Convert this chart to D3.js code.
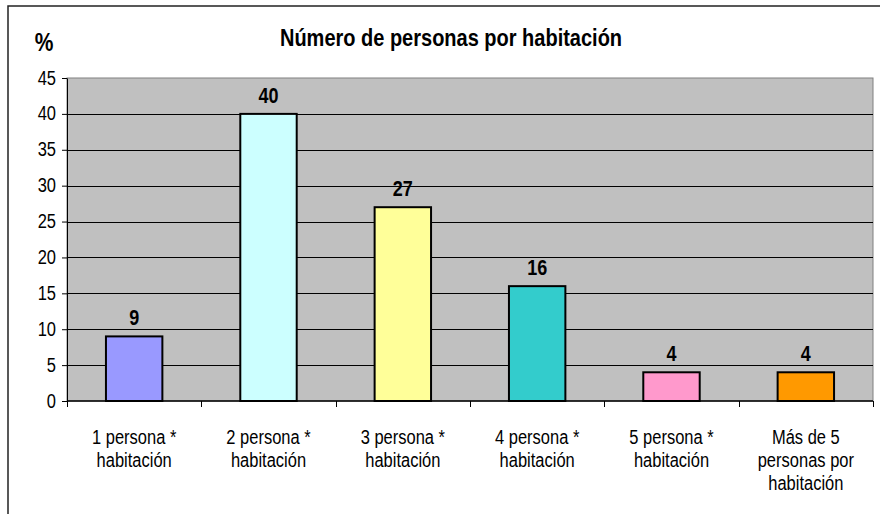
<!DOCTYPE html>
<html>
<head>
<meta charset="utf-8">
<script src="https://cdn.jsdelivr.net/npm/d3@7"></script>
<style>
  body { margin: 0; background: #fff; }
  text { font-family: "Liberation Sans", Arial, sans-serif; }
</style>
</head>
<body>
<svg id="chart"></svg>
<script>
// Data
const categories = [
    "1 persona * habitación",
    "2 persona * habitación",
    "3 persona * habitación",
    "4 persona * habitación",
    "5 persona * habitación",
    "Más de 5 personas por habitación"
];
const values = [9, 40, 27, 16, 4, 4];
const barColors = ["#9999FF", "#CCFFFF", "#FFFF99", "#33CCCC", "#FF99CC", "#FF9900"];
const yTicks = [0, 5, 10, 15, 20, 25, 30, 35, 40, 45];
const titleText = "Número de personas por habitación";
const yLabelText = "%";

let width = 884, height = 514;
let margin = { top: 78, bottom: 113, left: 67, right: 11 };
let sy = 1.2; // the original text looks a bit stretched vertically

let svg = d3.select('#chart')
    .attr('width', width)
    .attr('height', height);

// outer frame (only top and left edges are visible)
svg.append('path')
    .attr('d', `M8,${height} L8,6 L880,6`)
    .attr('fill', 'none')
    .attr('stroke', '#222')
    .attr('stroke-width', 1.5);

let xScale = d3.scaleBand()
    .domain(categories)
    .range([margin.left, width - margin.right])
    .paddingInner(0)
    .paddingOuter(0);

let yScale = d3.scaleLinear()
    .domain([0, 45])
    .range([height - margin.bottom, margin.top]);

// plot area
svg.append('rect')
    .attr('x', margin.left)
    .attr('y', margin.top)
    .attr('width', width - margin.right - margin.left)
    .attr('height', height - margin.bottom - margin.top)
    .attr('fill', '#C0C0C0')
    .attr('stroke', '#808080')
    .attr('stroke-width', 1);

// gridlines
svg.append('g')
    .selectAll('line')
    .data(yTicks.filter(t => t > 0 && t < 45))
    .enter()
    .append('line')
    .attr('x1', margin.left)
    .attr('x2', width - margin.right)
    .attr('y1', d => Math.round(yScale(d)) + 0.5)
    .attr('y2', d => Math.round(yScale(d)) + 0.5)
    .attr('stroke', '#000')
    .attr('stroke-width', 1);

// bars
let barW = xScale.bandwidth() * 0.42;
svg.append('g')
    .selectAll('rect')
    .data(values)
    .enter()
    .append('rect')
    .attr('x', (d, i) => xScale(categories[i]) + (xScale.bandwidth() - barW) / 2)
    .attr('y', d => yScale(d))
    .attr('width', barW)
    .attr('height', d => yScale(0) - yScale(d))
    .attr('fill', (d, i) => barColors[i])
    .attr('stroke', '#000')
    .attr('stroke-width', 2);

// value labels
svg.append('g')
    .selectAll('text')
    .data(values)
    .enter()
    .append('text')
    .attr('transform', (d, i) => `translate(${xScale(categories[i]) + xScale.bandwidth() / 2},${yScale(d) - 11}) scale(1,${sy})`)
    .attr('text-anchor', 'middle')
    .attr('font-weight', 'bold')
    .attr('font-size', 18)
    .text(d => d);

// y axis
let yAxis = svg.append('g')
    .attr('transform', `translate(${margin.left}, 0)`)
    .call(d3.axisLeft(yScale).tickValues(yTicks).tickSize(5).tickPadding(6).tickSizeOuter(0));
yAxis.select('.domain').attr('stroke', '#000');
yAxis.selectAll('text')
    .attr('font-size', 16.5)
    .attr('fill', '#000')
    .attr('dy', null)
    .attr('x', null)
    .attr('transform', `translate(-11,6) scale(1,${sy})`)
    .style('font-family', '"Liberation Sans", Arial, sans-serif');

// x axis: ticks on band boundaries
let x0 = yScale(0);
let bounds = categories.map(c => xScale(c)).concat([xScale.range()[1]]);
svg.append('g')
    .selectAll('line')
    .data(bounds)
    .enter()
    .append('line')
    .attr('x1', d => Math.round(d) + 0.5)
    .attr('x2', d => Math.round(d) + 0.5)
    .attr('y1', x0)
    .attr('y2', x0 + 6)
    .attr('stroke', '#000');
svg.append('line')
    .attr('x1', margin.left)
    .attr('x2', width - margin.right)
    .attr('y1', x0)
    .attr('y2', x0)
    .attr('stroke', '#000')
    .attr('stroke-width', 1.5);

// category labels, wrapped
function wrapWords(str, maxW, fontSize) {
    let ctx = document.createElement('canvas').getContext('2d');
    ctx.font = fontSize + 'px "Liberation Sans", Arial, sans-serif';
    let words = str.split(' '), lines = [], cur = '';
    words.forEach(w => {
        let test = cur ? cur + ' ' + w : w;
        if (ctx.measureText(test).width > maxW && cur) { lines.push(cur); cur = w; }
        else cur = test;
    });
    lines.push(cur);
    return lines;
}
let catFont = 16.5;
let catLabels = svg.append('g')
    .selectAll('text')
    .data(categories)
    .enter()
    .append('text')
    .attr('text-anchor', 'middle')
    .attr('font-size', catFont)
    .attr('transform', d => `translate(${xScale(d) + xScale.bandwidth() / 2},${x0 + 43}) scale(1,${sy})`);
catLabels.each(function(d) {
    let lines = wrapWords(d, 110, catFont);
    let t = d3.select(this);
    lines.forEach((ln, k) => {
        t.append('tspan')
            .attr('x', 0)
            .attr('dy', k === 0 ? 0 : 23 / sy)
            .text(ln);
    });
});

// title
svg.append('text')
    .attr('transform', `translate(451,46) scale(1,${sy})`)
    .attr('text-anchor', 'middle')
    .attr('font-weight', 'bold')
    .attr('font-size', 20)
    .text(titleText);

// y label
svg.append('text')
    .attr('transform', `translate(44,51) scale(1,${sy})`)
    .attr('text-anchor', 'middle')
    .attr('font-weight', 'bold')
    .attr('font-size', 21)
    .text(yLabelText);
</script>
</body>
</html>
